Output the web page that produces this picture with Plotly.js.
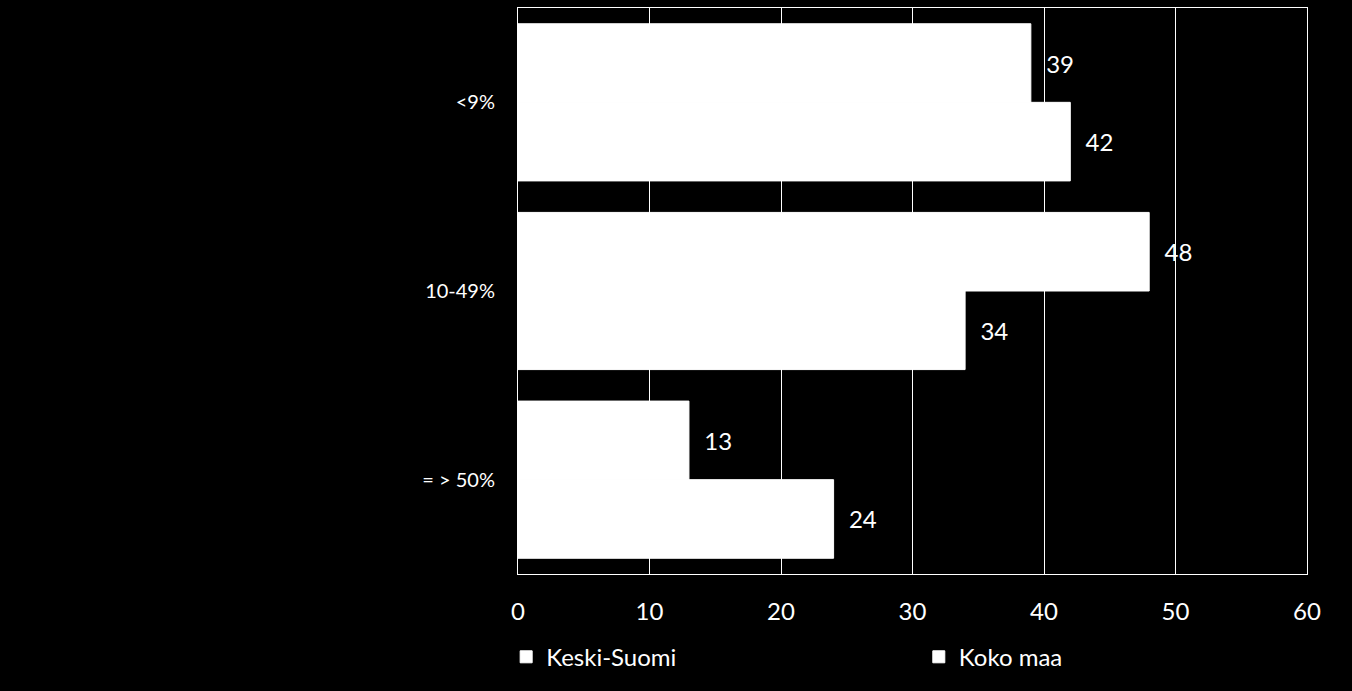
<!DOCTYPE html>
<html>
<head>
<meta charset="utf-8">
<script src="https://cdn.plot.ly/plotly-3.0.1.min.js"></script>
<style>
  html, body { margin: 0; padding: 0; background: #000; }
  #chart { width: 1352px; height: 691px; }
</style>
</head>
<body>
<div id="chart"></div>
<script>
var categories = ['<9%', '10-49%', '= > 50%'];
var keskiSuomi = [39, 48, 13];
var kokoMaa = [42, 34, 24];
var xTicks = [0, 10, 20, 30, 40, 50, 60];

function barTrace(name, vals, legendId) {
    return {
        y: categories,
        x: vals,
        name: name,
        legend: legendId,
        type: 'bar',
        orientation: 'h',
        // thin white outline hides the seam between touching bars
        marker: {color: '#ffffff', line: {color: '#ffffff', width: 1}},
        // non-breaking spaces push the label away from the bar end
        texttemplate: '\u00a0\u00a0%{x}',
        textposition: 'outside',
        textfont: {color: '#ffffff', size: 24},
        cliponaxis: false
    };
}

var data = [
    barTrace('Keski-Suomi', keskiSuomi, 'legend'),
    barTrace('Koko maa', kokoMaa, 'legend2')
];

function legendBox(x) {
    return {
        orientation: 'h',
        x: x,
        xanchor: 'left',
        y: -0.147,
        yanchor: 'middle',
        font: {size: 24, color: '#ffffff'},
        itemwidth: 30,
        bgcolor: 'rgba(0,0,0,0)'
    };
}

var layout = {
    width: 1352,
    height: 691,
    paper_bgcolor: '#000000',
    plot_bgcolor: '#000000',
    font: {family: 'Lato, "Open Sans", sans-serif', color: '#ffffff'},
    margin: {t: 8, b: 117, l: 518, r: 45, autoexpand: false},
    barmode: 'group',
    bargap: 0.167,
    bargroupgap: 0,
    showlegend: true,
    legend: legendBox(-0.015),
    legend2: legendBox(0.508),
    xaxis: {
        range: [0, 60],
        tickvals: xTicks,
        ticktext: xTicks.map(String),
        showgrid: true,
        gridcolor: '#ffffff',
        gridwidth: 1,
        zeroline: false,
        showline: true,
        linecolor: '#ffffff',
        linewidth: 1,
        mirror: true,
        ticks: '',
        ticklabelstandoff: 16,
        tickfont: {size: 24, color: '#ffffff'}
    },
    yaxis: {
        type: 'category',
        autorange: 'reversed',
        showgrid: false,
        zeroline: false,
        showline: true,
        linecolor: '#ffffff',
        linewidth: 1,
        mirror: true,
        ticks: '',
        ticklabelstandoff: 18,
        tickfont: {size: 20, color: '#ffffff'}
    }
};

Plotly.newPlot('chart', data, layout, {displayModeBar: false});
</script>
</body>
</html>
